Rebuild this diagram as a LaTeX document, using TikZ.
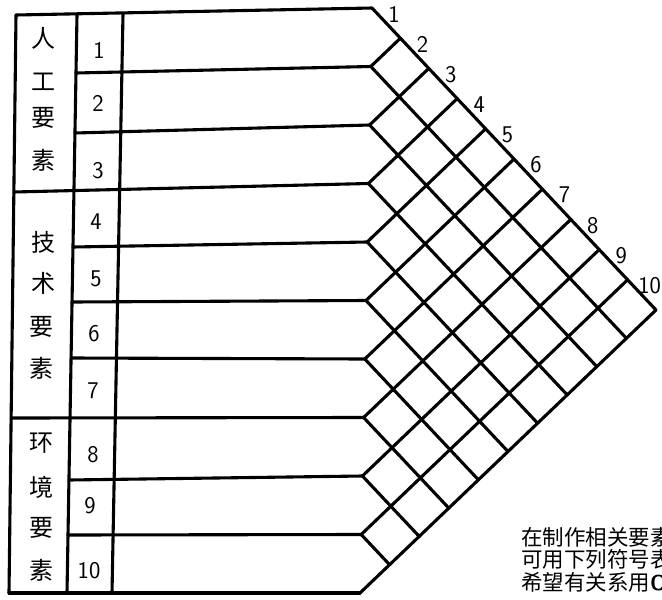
\documentclass[tikz,border=0pt]{standalone}
\usepackage{fontspec}
\newfontfamily\cjk{Noto Sans CJK SC}
\usetikzlibrary{calc}
\tikzset{
  ink/.style={line width=3.1pt, line cap=round, line join=round},
  cjklabel/.style={font=\cjk\fontsize{24}{24}\selectfont, inner sep=0pt},
  numlabel/.style={font=\sffamily\fontsize{24}{24}\selectfont, inner sep=0pt},
  notetext/.style={font=\cjk\fontsize{21.5}{22}\selectfont, inner sep=0pt, anchor=west},
}
\begin{document}
\begin{tikzpicture}[x=1pt,y=-1pt]
\useasboundingbox (0,0) rectangle (662,600);
\clip (0,0) rectangle (662,600);
% grid points of the triangular matrix
\foreach \i in {0,...,10}{
  \foreach \j in {\i,...,10}{
    \coordinate (g-\i-\j) at ({372+28.4*\j-29.6*\i},{8+30.2*\j+28.3*\i});
  }
}
% table frame
\coordinate (lt) at (16,15);
\coordinate (lb) at (9,593);
\coordinate (c1t) at (77,15);
\coordinate (c1b) at (67,593);
\coordinate (c2t) at (123,14);
\coordinate (c2b) at (112,593);
\draw[ink] (lt) -- (lb);
\draw[ink] (c1t) -- (c1b);
\draw[ink] (c2t) -- (c2b);
% left ends of row lines
\coordinate (r-0) at (16,15);
\coordinate (r-1) at (76,73);
\coordinate (r-2) at (75,133);
\coordinate (r-3) at (13.9,192);
\coordinate (r-4) at (73,247);
\coordinate (r-5) at (72,302);
\coordinate (r-6) at (71.1,358);
\coordinate (r-7) at (11.1,418);
\coordinate (r-8) at (69,480);
\coordinate (r-9) at (68,535);
\coordinate (r-10) at (9,593);
\foreach \i in {0,...,10}{
  \draw[ink] (r-\i) -- (g-\i-\i);
}
% diagonal grid
\foreach \i in {0,...,9}{
  \draw[ink] (g-\i-\i) -- (g-\i-10);
}
\foreach \j in {1,...,10}{
  \draw[ink] (g-\j-\j) -- (g-0-\j);
}
% edge numbers
\foreach \k [evaluate=\k as \km using int(\k-1)] in {1,...,10}{
  \node[numlabel] (e\k) at ($(g-0-\km)+(22,6)$) {\k};
}
% row numbers
\node[numlabel] (n1) at (99,50) {1};
\node[numlabel] (n2) at (98,103) {2};
\node[numlabel] (n3) at (98,171) {3};
\node[numlabel] (n4) at (96,222) {4};
\node[numlabel] (n5) at (96,279) {5};
\node[numlabel] (n6) at (94,334) {6};
\node[numlabel] (n7) at (93,391) {7};
\node[numlabel] (n8) at (93,455) {8};
\node[numlabel] (n9) at (90,506) {9};
\node[numlabel] (n10) at (89,571) {10};
% group labels
\node[cjklabel] (a1) at (43,38) {人};
\node[cjklabel] (a2) at (43,82) {工};
\node[cjklabel] (a3) at (43,118) {要};
\node[cjklabel] (a4) at (43,160) {素};
\node[cjklabel] (b1) at (43,242) {技};
\node[cjklabel] (b2) at (43,283) {术};
\node[cjklabel] (b3) at (41,327) {要};
\node[cjklabel] (b4) at (41,368) {素};
\node[cjklabel] (c1) at (41,443) {环};
\node[cjklabel] (c2) at (41,487) {境};
\node[cjklabel] (c3) at (41,528) {要};
\node[cjklabel] (c4) at (41,570) {素};
% note text (cut by the right edge, as in the reference)
\node[notetext] (t1) at (521,537) {在制作相关要素};
\node[notetext] (t2) at (521,559) {可用下列符号表};
\node[notetext] (t3) at (521,582) {希望有关系用{\sffamily\bfseries O}};
\end{tikzpicture}
\end{document}
